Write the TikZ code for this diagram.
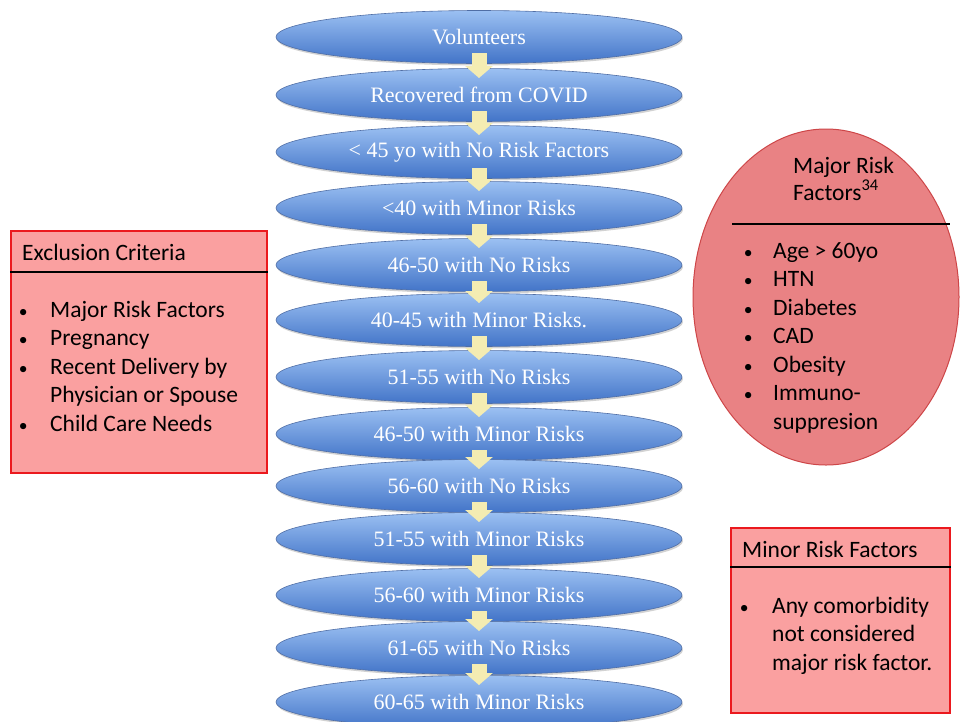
\documentclass[tikz,border=0pt]{standalone}
\usepackage{fontspec}
\setmainfont{Carlito}
\newfontfamily\tnr{Liberation Serif}
\usetikzlibrary{shapes.geometric,shadows,arrows.meta,calc}
\definecolor{ellTop}{RGB}{155,192,242}
\definecolor{ellMid}{RGB}{98,148,226}
\definecolor{ellBot}{RGB}{66,116,200}
\definecolor{ellEdge}{RGB}{80,110,165}
\definecolor{arrowFill}{RGB}{244,236,178}
\definecolor{boxFill}{RGB}{250,160,160}
\definecolor{boxEdge}{RGB}{235,25,30}
\definecolor{majFill}{RGB}{233,130,132}
\definecolor{majEdge}{RGB}{205,70,72}
\newcommand\bl[1]{\llap{\scalebox{0.75}{•}\hspace{#1}}}
\begin{document}
\begin{tikzpicture}[x=1pt,y=-1pt,
  stage/.style={ellipse, minimum width=406pt, minimum height=53pt, inner sep=0pt,
    top color=ellTop, middle color=ellMid, bottom color=ellBot, draw=ellEdge, line width=0.6pt,
    text=white, font=\tnr\fontsize{22}{26}\selectfont,
    drop shadow={opacity=0.35, shadow xshift=1pt, shadow yshift=-2pt}},
  flowarrow/.style={line width=15pt, draw=arrowFill, -{Triangle[width=27pt,length=12pt]}},
  pinkbox/.style={rectangle, draw=boxEdge, line width=1.6pt, fill=boxFill, inner sep=0pt},
  majell/.style={ellipse, draw=majEdge, line width=1pt, fill=majFill, inner sep=0pt},
  headline/.style={black, line width=1.5pt},
  txt/.style={anchor=base west, inner sep=0pt, font=\fontsize{23.5}{28.5}\selectfont},
]
\useasboundingbox (0,0) rectangle (961,721);
\fill[white] (0,0) rectangle (961,721);

% flow of ellipses
\node[stage] (s1)  at (479,37)  {Volunteers};
\node[stage] (s2)  at (479,95)  {Recovered from COVID};
\node[stage] (s3)  at (479,152) {< 45 yo with No Risk Factors};
\node[stage] (s4)  at (479,208) {<40 with Minor Risks};
\node[stage] (s5)  at (479,265) {46-50 with No Risks};
\node[stage] (s6)  at (479,320) {40-45 with Minor Risks.};
\node[stage] (s7)  at (479,377) {51-55 with No Risks};
\node[stage] (s8)  at (479,434) {46-50 with Minor Risks};
\node[stage] (s9)  at (479,486) {56-60 with No Risks};
\node[stage] (s10) at (479,539) {51-55 with Minor Risks};
\node[stage] (s11) at (479,595) {56-60 with Minor Risks};
\node[stage] (s12) at (479,648) {61-65 with No Risks};
\node[stage] (s13) at (479,702) {60-65 with Minor Risks};

\foreach \a/\b in {s1/s2,s2/s3,s3/s4,s4/s5,s5/s6,s6/s7,s7/s8,s8/s9,s9/s10,s10/s11,s11/s12,s12/s13}
  \draw[flowarrow] ([yshift=-16pt]\a.center) -- ([yshift=17pt]\b.center);

% Exclusion criteria box
\node[pinkbox, minimum width=256pt, minimum height=242pt] (excl) at (139,352) {};
\draw[headline] (excl.west |- 0,272) -- (excl.east |- 0,272);
\node[txt] (exT) at (22,260) {Exclusion Criteria};
\node[txt] (ex1) at (50,317) {\bl{22.5pt}Major Risk Factors};
\node[txt] (ex2) at (50,345.5) {\bl{22.5pt}Pregnancy};
\node[txt] (ex3) at (50,374) {\bl{22.5pt}Recent Delivery by};
\node[txt] (ex4) at (50,402.5) {Physician or Spouse};
\node[txt] (ex5) at (50,431) {\bl{22.5pt}Child Care Needs};

% Major risk factors ellipse
\node[majell, minimum width=266pt, minimum height=336pt] (major) at (826,297) {};
\draw[headline] (732,224) -- (950,224);
\node[txt] (maT1) at (793,173) {Major Risk};
\node[txt] (maT2) at (793,200) {Factors\textsuperscript{34}};
\node[txt] (ma1) at (773,258) {\bl{20.5pt}Age > 60yo};
\node[txt] (ma2) at (773,286.5) {\bl{20.5pt}HTN};
\node[txt] (ma3) at (773,315) {\bl{20.5pt}Diabetes};
\node[txt] (ma4) at (773,343.5) {\bl{20.5pt}CAD};
\node[txt] (ma5) at (773,372) {\bl{20.5pt}Obesity};
\node[txt] (ma6) at (773,400.5) {\bl{20.5pt}Immuno-};
\node[txt] (ma7) at (773,429) {suppresion};

% Minor risk factors box
\node[pinkbox, minimum width=219pt, minimum height=185pt] (minor) at (840.5,620.5) {};
\draw[headline] (minor.west |- 0,567) -- (minor.east |- 0,567);
\node[txt] (miT) at (742,557) {Minor Risk Factors};
\node[txt] (mi1) at (772,613) {\bl{23.5pt}Any comorbidity};
\node[txt] (mi2) at (772,641.5) {not considered};
\node[txt] (mi3) at (772,670) {major risk factor.};
\end{tikzpicture}
\end{document}
